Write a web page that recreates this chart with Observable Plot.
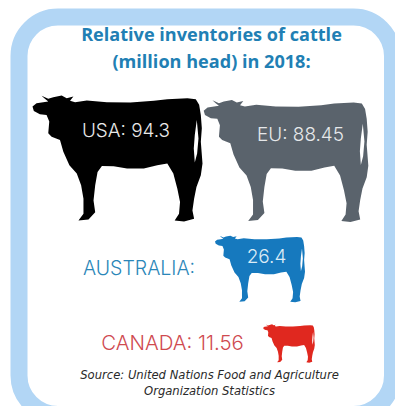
<!DOCTYPE html>
<html>
<head>
<meta charset="utf-8">
<script src="https://cdn.jsdelivr.net/npm/d3@7"></script>
<script src="https://cdn.jsdelivr.net/npm/@observablehq/plot@0.6"></script>
<style>
  html, body { margin: 0; padding: 0; background: #fff; overflow: hidden; }
  svg { display: block; }
</style>
</head>
<body>
<div id="chart"></div>
<script>
// Cattle inventories, million head, 2018
const countries = ["USA", "EU", "AUSTRALIA", "CANADA"];
const inventories = [94.3, 88.45, 26.4, 11.56];
const herdColors = ["#000000", "#5a636c", "#1679be", "#e0281f"];

const titleLines = ["Relative inventories of cattle", "(million head) in 2018:"];
const sourceLines = ["Source: United Nations Food and Agriculture", "Organization Statistics"];

// Where each animal and its caption sit on the poster
const cowCenter = {USA: [117, 158], EU: [285.5, 160.5], AUSTRALIA: [259.5, 268.5], CANADA: [288.5, 343]};
const labelSpot = {USA: [125.5, 130], EU: [300, 134], AUSTRALIA: [266, 256], CANADA: [172, 343]};
const labelStyle = {
  USA: {size: 18.9, color: "#e9e9e9"},
  EU: {size: 18.9, color: "#e6e8ea"},
  AUSTRALIA: {size: 19, color: "#dcecf6"},
  CANADA: {size: 20.4, color: "#cf4a50"}
};

// Cow silhouette outline, then the light slit beside the tail
const cowOutline = [
  [65,33],[85,42],[100,37],[125,32],[140,40],[160,35],[150,48],[165,52],[200,47],[260,52],
  [330,53],[400,48],[440,43],[500,40],[525,43],[535,60],[540,90],[543,130],[540,170],[545,235],
  [540,270],[527,305],[520,340],[515,375],[520,400],[490,408],[462,405],[475,385],[478,350],[470,310],
  [458,265],[440,235],[410,240],[370,250],[320,250],[280,243],[245,242],[232,260],[225,300],[220,345],
  [225,380],[205,402],[175,405],[190,385],[190,340],[183,300],[170,265],[148,240],[130,200],[120,165],
  [95,155],[85,145],[88,110],[80,90],[60,88],[42,78],[38,65],[50,55],[70,52],[85,50],[75,42]
];
const cowSlit = [[522,150],[519,190],[522,232],[529,205],[533,160],[528,105]];

const cowSymbol = {
  draw(context, size) {
    const halfWidth = Math.sqrt(size / Math.PI);
    const [x0, x1] = d3.extent(cowOutline, d => d[0]);
    const [y0, y1] = d3.extent(cowOutline, d => d[1]);
    const k = 2 * halfWidth / (x1 - x0);
    const cx = (x0 + x1) / 2, cy = (y0 + y1) / 2;
    for (const ring of [cowOutline, cowSlit]) {
      ring.forEach(([x, y], i) => {
        const px = (x - cx) * k, py = (y - cy) * k;
        i ? context.lineTo(px, py) : context.moveTo(px, py);
      });
      context.closePath();
    }
  }
};

const herds = countries.map((country, i) => ({country, head: inventories[i]}));

const captionText = d =>
  d.country === "AUSTRALIA" ? String(d.head) : `${d.country}: ${d.head}`;

const uiFont = "Inter, 'Open Sans', sans-serif";

const chart = Plot.plot({
  width: 395,
  height: 406,
  margin: 0,
  style: {background: "#fff", overflow: "hidden"},
  x: {domain: [0, 395], range: [0, 395], axis: null},
  y: {domain: [0, 406], range: [0, 406], axis: null},
  r: {type: "sqrt", domain: [11.56, 26.4, 94.3], range: [25.8, 45, 85]},
  color: {domain: countries, range: herdColors},
  marks: [
    Plot.frame({
      stroke: "#b2d6f5",
      strokeWidth: 17,
      rx: 39,
      insetLeft: 18.5,
      insetTop: 16.5,
      insetRight: 3,
      insetBottom: -8
    }),
    Plot.text(titleLines, {
      text: d => d,
      x: 211,
      y: (d, i) => [35, 62][i],
      fontFamily: "'Open Sans', sans-serif",
      fontWeight: 700,
      fontSize: 18.1,
      fill: "#217fb4"
    }),
    Plot.dot(herds, {
      x: d => cowCenter[d.country][0],
      y: d => cowCenter[d.country][1],
      r: "head",
      symbol: cowSymbol,
      fill: "country",
      stroke: "none"
    }),
    ...herds.map(d => Plot.text([d], {
      text: captionText,
      x: labelSpot[d.country][0],
      y: labelSpot[d.country][1],
      fontFamily: uiFont,
      fontWeight: 300,
      fontSize: labelStyle[d.country].size,
      fill: labelStyle[d.country].color
    })),
    Plot.text(["AUSTRALIA:"], {
      text: d => d,
      x: 138.5,
      y: 268,
      fontFamily: uiFont,
      fontWeight: 300,
      fontSize: 19.5,
      fill: "#2a86b8"
    }),
    Plot.text(sourceLines, {
      text: d => d,
      x: 209,
      y: (d, i) => [375, 391][i],
      fontFamily: "'DejaVu Sans', sans-serif",
      fontStyle: "italic",
      fontSize: 11.6,
      fill: "#2a2a2a"
    })
  ]
});

document.getElementById("chart").append(chart);
</script>
</body>
</html>
